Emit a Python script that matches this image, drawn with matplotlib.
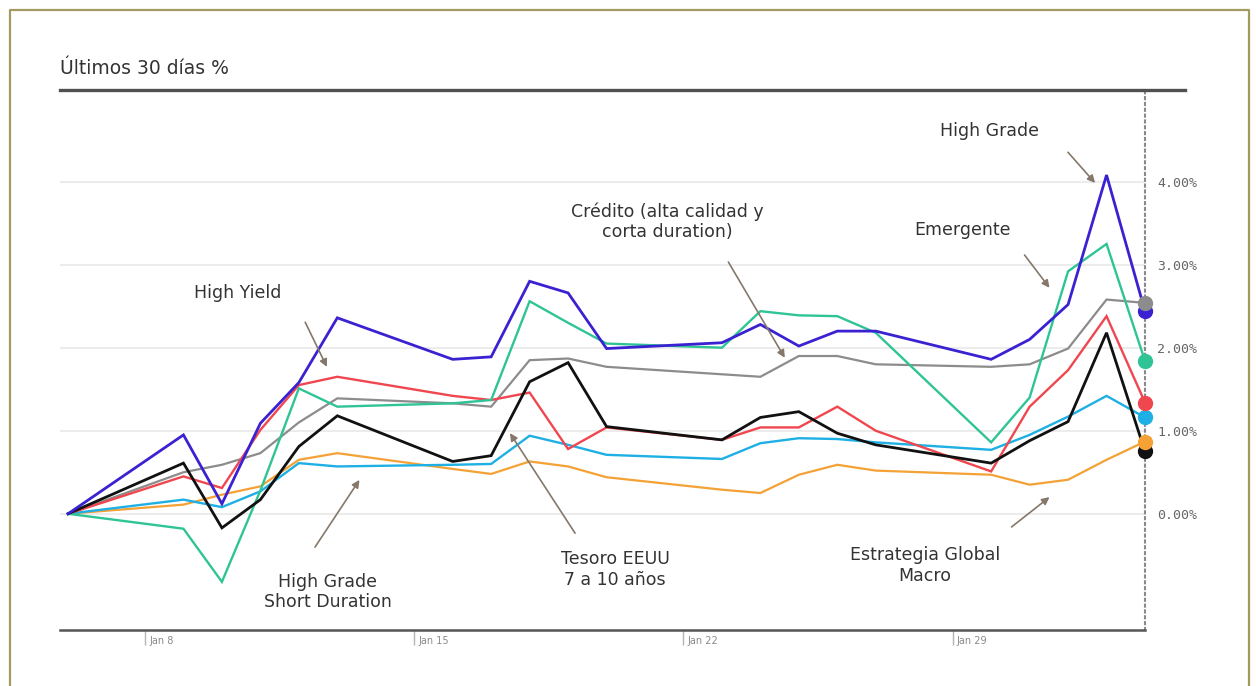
import matplotlib
matplotlib.use("Agg")
import matplotlib.pyplot as plt
import matplotlib.dates as mdates
from matplotlib.lines import Line2D
import pandas as pd

# Trading days (timestamps as stored, one day after the close)
dates = pd.to_datetime([
    "2024-01-06", "2024-01-09", "2024-01-10", "2024-01-11", "2024-01-12", "2024-01-13",
    "2024-01-16", "2024-01-17", "2024-01-18", "2024-01-19", "2024-01-20",
    "2024-01-23", "2024-01-24", "2024-01-25", "2024-01-26", "2024-01-27",
    "2024-01-30", "2024-01-31", "2024-02-01", "2024-02-02", "2024-02-03",
])

# Cumulative return, %
high_grade = [0, 0.95, 0.12, 1.09, 1.58, 2.36, 1.86, 1.89, 2.80, 2.66, 1.99,
              2.06, 2.28, 2.02, 2.20, 2.20, 1.86, 2.10, 2.52, 4.08, 2.44]
emergente = [0, -0.18, -0.82, 0.28, 1.51, 1.29, 1.33, 1.37, 2.56, 2.30, 2.05,
             2.00, 2.44, 2.39, 2.38, 2.18, 0.86, 1.40, 2.92, 3.25, 1.84]
credito = [0, 0.50, 0.59, 0.73, 1.10, 1.39, 1.33, 1.29, 1.85, 1.87, 1.77,
           1.68, 1.65, 1.90, 1.90, 1.80, 1.77, 1.80, 1.99, 2.58, 2.54]
high_yield = [0, 0.45, 0.31, 1.01, 1.55, 1.65, 1.42, 1.37, 1.46, 0.78, 1.04,
              0.89, 1.04, 1.04, 1.29, 1.00, 0.51, 1.29, 1.73, 2.38, 1.34]
tesoro = [0, 0.61, -0.17, 0.17, 0.81, 1.18, 0.63, 0.70, 1.59, 1.82, 1.05,
          0.89, 1.16, 1.23, 0.97, 0.83, 0.61, 0.88, 1.11, 2.18, 0.75]
hg_short = [0, 0.17, 0.08, 0.27, 0.61, 0.57, 0.59, 0.60, 0.94, 0.83, 0.71,
            0.66, 0.85, 0.91, 0.90, 0.86, 0.77, 0.95, 1.17, 1.42, 1.16]
global_macro = [0, 0.11, 0.23, 0.33, 0.65, 0.73, 0.54, 0.48, 0.63, 0.57, 0.44,
                0.29, 0.25, 0.47, 0.59, 0.52, 0.47, 0.35, 0.41, 0.65, 0.87]

y_ticks = [0, 1, 2, 3, 4]
y_tick_labels = ["0.00%", "1.00%", "2.00%", "3.00%", "4.00%"]
x_ticks = pd.to_datetime(["2024-01-08", "2024-01-15", "2024-01-22", "2024-01-29"])
x_tick_labels = ["Jan 8", "Jan 15", "Jan 22", "Jan 29"]

TEXT = "#333333"
ARROW = "#85786a"

# (values, colour, line width, z-order of line, z-order of end dot)
series = [
    (credito, "#8c8c8c", 1.6, 3, 7),
    (global_macro, "#f4a136", 1.6, 3, 7),
    (hg_short, "#1eb0e4", 1.7, 3, 5),
    (high_yield, "#f0464f", 1.7, 4, 5),
    (emergente, "#2fc495", 1.7, 4, 5),
    (tesoro, "#111111", 2.0, 5, 6),
    (high_grade, "#3a22d2", 2.0, 5, 6),
]

fig = plt.figure(figsize=(12.56, 6.86), dpi=100)
W, H = 1256, 686
ax = fig.add_axes([60 / W, 56 / H, 1085 / W, 538 / H])

for vals, col, lw, z, zd in series:
    ax.plot(dates, vals, color=col, lw=lw, zorder=z, solid_joinstyle="miter")
    ax.plot(dates[-1:], vals[-1:], "o", color=col, ms=10, zorder=zd, clip_on=False)

x0 = mdates.date2num(dates[0])
x1 = mdates.date2num(dates[-1])
ax.set_xlim(x0 - 0.21, x1)
ax.set_ylim(-1.40, 5.08)

# y axis on the right
ax.yaxis.tick_right()
ax.set_yticks(y_ticks)
ax.set_yticklabels(y_tick_labels, family="DejaVu Sans Mono", fontsize=9.5, color="#666666")
ax.tick_params(axis="y", length=0, pad=9)
ax.grid(axis="y", color="#ececec", lw=1.5, zorder=0)

# x axis: tick marks with labels to their right
ax.set_xticks(x_ticks)
ax.set_xticklabels([])
ax.tick_params(axis="x", length=11, width=1, color="#b5b5b5", direction="out")
for d, lab in zip(x_ticks, x_tick_labels):
    ax.annotate(lab, xy=(d, 0), xycoords=("data", "axes fraction"),
                xytext=(3, -4), textcoords="offset points",
                ha="left", va="top", fontsize=7, color="#8a8a8a")

for s in ("left", "top"):
    ax.spines[s].set_visible(False)
ax.spines["bottom"].set_color("#555555")
ax.spines["bottom"].set_linewidth(1.8)
ax.spines["right"].set_color("#8a8a8a")
ax.spines["right"].set_linewidth(1.5)
ax.spines["right"].set_linestyle((0, (1, 1.8)))

# Annotations (axes-fraction coordinates)
notes = [
    ("High Grade", (0.857, 0.9275), (0.929, 0.888), (0.954, 0.831)),
    ("Emergente", (0.832, 0.7435), (0.889, 0.697), (0.912, 0.636)),
    ("Crédito (alta calidad y\ncorta duration)", (0.560, 0.759), (0.616, 0.684), (0.668, 0.506)),
    ("High Yield", (0.164, 0.626), (0.226, 0.572), (0.246, 0.489)),
    ("High Grade\nShort Duration", (0.247, 0.0706), (0.235, 0.154), (0.276, 0.279)),
    ("Tesoro EEUU\n7 a 10 años", (0.5115, 0.1125), (0.4747, 0.180), (0.4147, 0.366)),
    ("Estrategia Global\nMacro", (0.797, 0.120), (0.877, 0.1915), (0.912, 0.247)),
]
for txt, tpos, a0, a1 in notes:
    ax.text(*tpos, txt, transform=ax.transAxes, ha="center", va="center",
            fontsize=12.5, color=TEXT, linespacing=1.2, zorder=8)
    ax.annotate("", xy=a1, xycoords="axes fraction", xytext=a0, textcoords="axes fraction",
                arrowprops=dict(arrowstyle="-|>", color=ARROW, lw=1.2,
                                mutation_scale=11, shrinkA=0, shrinkB=0), zorder=8)

# Header
fig.text(60 / W, 1 - 68 / H, "Últimos 30 días %", ha="left", va="center",
         fontsize=13.5, color=TEXT)
fig.add_artist(Line2D([60 / W, 1185 / W], [1 - 90 / H, 1 - 90 / H],
                      color="#505050", lw=2.4, transform=fig.transFigure))

# Frame
frame = "#a39a5e"
fig.add_artist(Line2D([10 / W, 10 / W, 1249 / W, 1249 / W],
                      [0, 1 - 10 / H, 1 - 10 / H, 0],
                      color=frame, lw=1.6, transform=fig.transFigure))

fig.savefig("out.png", dpi=100, facecolor="white")
